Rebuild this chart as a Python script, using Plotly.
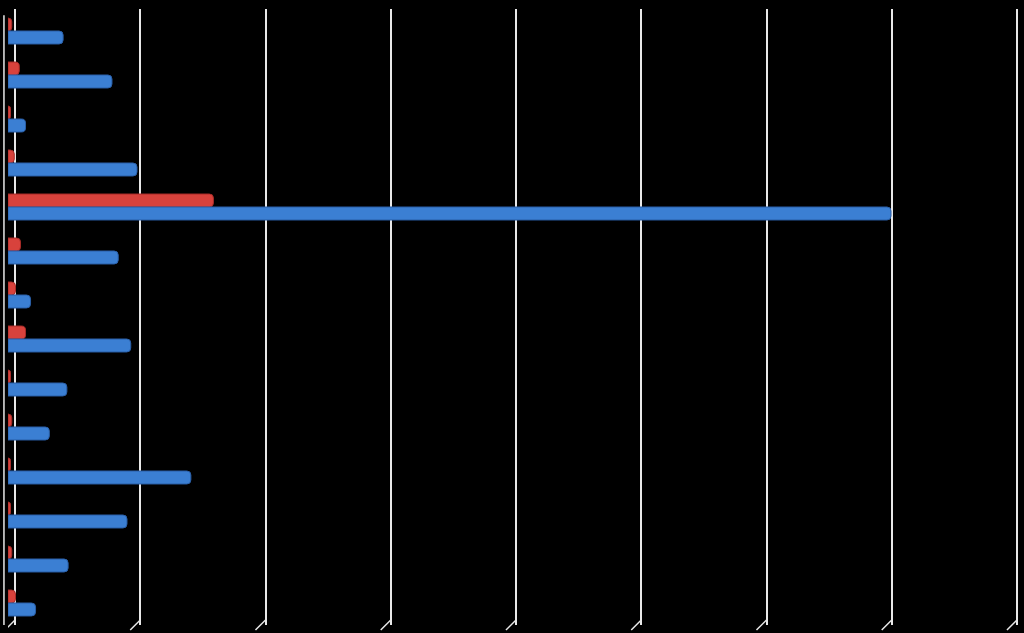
import plotly.graph_objects as go

categories = [f"Cat {i}" for i in range(1, 15)]
series_red = [3, 9, 2, 5, 164, 10, 6, 14, 2, 3, 2, 2, 3, 6]
series_blue = [44, 83, 14, 103, 705, 88, 18, 98, 47, 33, 146, 95, 48, 22]
grid_ticks = [0, 100, 200, 300, 400, 500, 600, 700, 800]

RED = "#d8423c"
BLUE = "#3b7fd3"

fig = go.Figure()
# invisible trace to activate the back-wall gridline axis
fig.add_trace(go.Scatter(x=[0], y=[categories[0]], xaxis="x2", mode="markers",
                         marker=dict(opacity=0, size=1), hoverinfo="skip"))
fig.add_trace(go.Bar(
    y=categories, x=series_red, orientation="h", name="Series 1",
    marker=dict(color=RED, line=dict(color="#a82c28", width=1), cornerradius=4),
))
fig.add_trace(go.Bar(
    y=categories, x=series_blue, orientation="h", name="Series 2",
    marker=dict(color=BLUE, line=dict(color="#2a5fa8", width=1), cornerradius=4),
))

# shift of back-wall gridlines relative to bar origin (3D depth offset), in axis units
depth = 5.6
xmax = 808
shapes = []
for t in grid_ticks:
    shapes.append(dict(type="line", xref="x2", yref="paper", x0=t, x1=t - 8, y0=0.008, y1=-0.008,
                       line=dict(color="#e8e8e8", width=1.5)))
shapes.append(dict(type="line", xref="paper", yref="paper", x0=-0.004, x1=-0.004, y0=0.0, y1=0.99,
                   line=dict(color="#e8e8e8", width=1.5)))

fig.update_layout(
    width=1024, height=633,
    paper_bgcolor="black", plot_bgcolor="black",
    margin=dict(l=8, r=4, t=9, b=8),
    barmode="group", bargap=0.41, bargroupgap=0.0,
    showlegend=False,
    xaxis=dict(range=[0, xmax], showgrid=False, zeroline=False, showticklabels=False, ticks=""),
    xaxis2=dict(range=[-depth, xmax - depth], overlaying="x", tickvals=grid_ticks, showgrid=True,
                gridcolor="#e8e8e8", gridwidth=1.5, zeroline=False, showticklabels=False, ticks=""),
    yaxis=dict(range=[13.5, -0.5], showgrid=False, zeroline=False, showticklabels=False, ticks=""),
    shapes=shapes,
)

fig.write_html("out.html", config={"displayModeBar": False},
               post_script="document.body.style.margin='0';document.body.style.background='black';")
